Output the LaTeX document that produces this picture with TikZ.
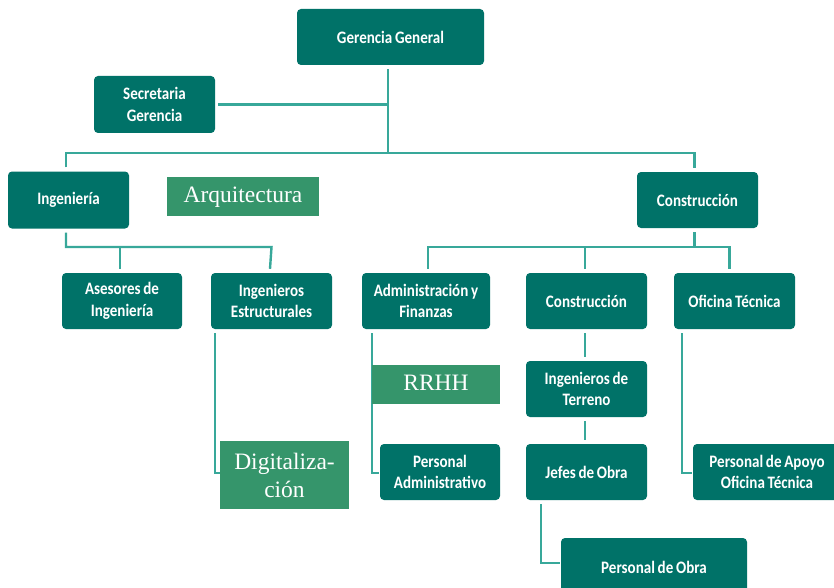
\documentclass[tikz,border=0pt]{standalone}
\usepackage{fontspec}
\usetikzlibrary{backgrounds}
\setmainfont{Liberation Serif}
\newfontfamily\boxfont[FakeStretch=0.86,WordSpace=0.8]{Carlito}
\definecolor{boxc}{RGB}{0,114,104}
\definecolor{linec}{RGB}{56,168,154}
\definecolor{greenc}{RGB}{53,149,107}
\tikzset{
  orgbox/.style={fill=boxc, rounded corners=4pt, text=white, align=center, inner sep=0pt,
    font=\boxfont\bfseries\fontsize{17.5}{21.5}\selectfont, minimum height=56pt},
  flatbox/.style={fill=greenc, text=white, align=center, inner sep=0pt,
    font=\fontsize{23.5}{28}\selectfont},
  conn/.style={draw=linec, line width=2.4pt}
}
\begin{document}
\begin{tikzpicture}[x=1pt,y=-1pt]
\useasboundingbox (0,0) rectangle (834,588);
\clip (0,0) rectangle (834,588);
% boxes
\node[orgbox, minimum width=187pt] (gg) at (390.5,37) {Gerencia General};
\node[orgbox, minimum width=121pt, minimum height=57pt] (sec) at (154.5,104.5) {Secretaria\\Gerencia};
\node[orgbox, minimum width=121pt, minimum height=57pt] (ing) at (68.5,200) {Ingeniería};
\node[orgbox, minimum width=121pt] (con) at (697.5,200) {Construcción};
\node[orgbox, minimum width=120pt] (ase) at (122,301) {Asesores de\\Ingeniería};
\node[orgbox, minimum width=121pt] (ie) at (271.5,301) {Ingenieros\\Estructurales};
\node[orgbox, minimum width=128pt] (adm) at (426,301) {Administración y\\Finanzas};
\node[orgbox, minimum width=121pt] (cm) at (586.5,301) {Construcción};
\node[orgbox, minimum width=121pt] (ot) at (734.5,301) {Oficina Técnica};
\node[orgbox, minimum width=121pt] (it) at (586.5,389) {Ingenieros de\\Terreno};
\node[orgbox, minimum width=120pt] (pa) at (440,472) {Personal\\Administrativo};
\node[orgbox, minimum width=121pt] (jo) at (586.5,472) {Jefes de Obra};
\node[orgbox, minimum width=148pt] (pap) at (767,472) {Personal de Apoyo\\Oficina Técnica};
\node[orgbox, minimum width=186pt, minimum height=58pt] (po) at (654,567) {Personal de Obra};
% flat green boxes
\node[flatbox, minimum width=152pt, minimum height=39pt, text height=17pt, text depth=5pt] (arq) at (243,196.5) {Arquitectura};
\node[flatbox, minimum width=128pt, minimum height=39pt, text height=17pt, text depth=5pt] (rrhh) at (436,384.5) {RRHH};
\node[flatbox, minimum width=129pt, minimum height=68pt] (dig) at (284.5,475) {Digitaliza-\\ción};
% connectors
\begin{scope}[on background layer]
\fill[white] (0,0) rectangle (834,588);
\coordinate (b1) at (388,153);
\coordinate (b2) at (0,247);
\draw[conn] ([xshift=-2.5pt,yshift=-4pt]gg.south) -- (b1);
\draw[conn] ([xshift=3pt]sec.east) -- (sec.east -| b1);
\draw[conn] ([xshift=-2.5pt,yshift=4pt]ing.north) |- (b1) -| ([xshift=-3pt,yshift=4pt]con.north);
\draw[conn] ([xshift=-2.5pt,yshift=-4pt]ing.south) |- (b2 -| ie.north) -- ([xshift=-1.5pt,yshift=4pt]ie.north);
\draw[conn] ([xshift=-2pt,yshift=4pt]ase.north) -- ([xshift=-2pt]ase.north |- b2);
\draw[conn] ([xshift=-3pt,yshift=-4pt]con.south) -- ([xshift=-3pt]con.south |- b2);
\draw[conn] ([xshift=2pt,yshift=4pt]adm.north) |- ([xshift=-5pt]ot.north |- b2) -- ([xshift=-5pt,yshift=4pt]ot.north);
\draw[conn] ([xshift=-1.5pt,yshift=4pt]cm.north) -- ([xshift=-1.5pt]cm.north |- b2);
\draw[conn] ([xshift=-1.5pt,yshift=-4pt]cm.south) -- ([xshift=-1.5pt,yshift=4pt]it.north);
\draw[conn] ([xshift=-1.5pt,yshift=-4pt]it.south) -- ([xshift=-1.5pt,yshift=4pt]jo.north);
\draw[conn] ([xshift=4pt,yshift=-4pt]ie.south west) |- ([yshift=2pt]dig.west);
\draw[conn] ([xshift=10pt,yshift=-4pt]adm.south west) |- ([xshift=-1pt,yshift=-1pt]pa.west);
\draw[conn] ([xshift=8pt,yshift=-4pt]ot.south west) |- ([xshift=-1pt,yshift=-1pt]pap.west);
\draw[conn] ([xshift=15pt,yshift=-4pt]jo.south west) |- ([xshift=-1pt,yshift=4pt]po.west);
\end{scope}
\end{tikzpicture}
\end{document}
